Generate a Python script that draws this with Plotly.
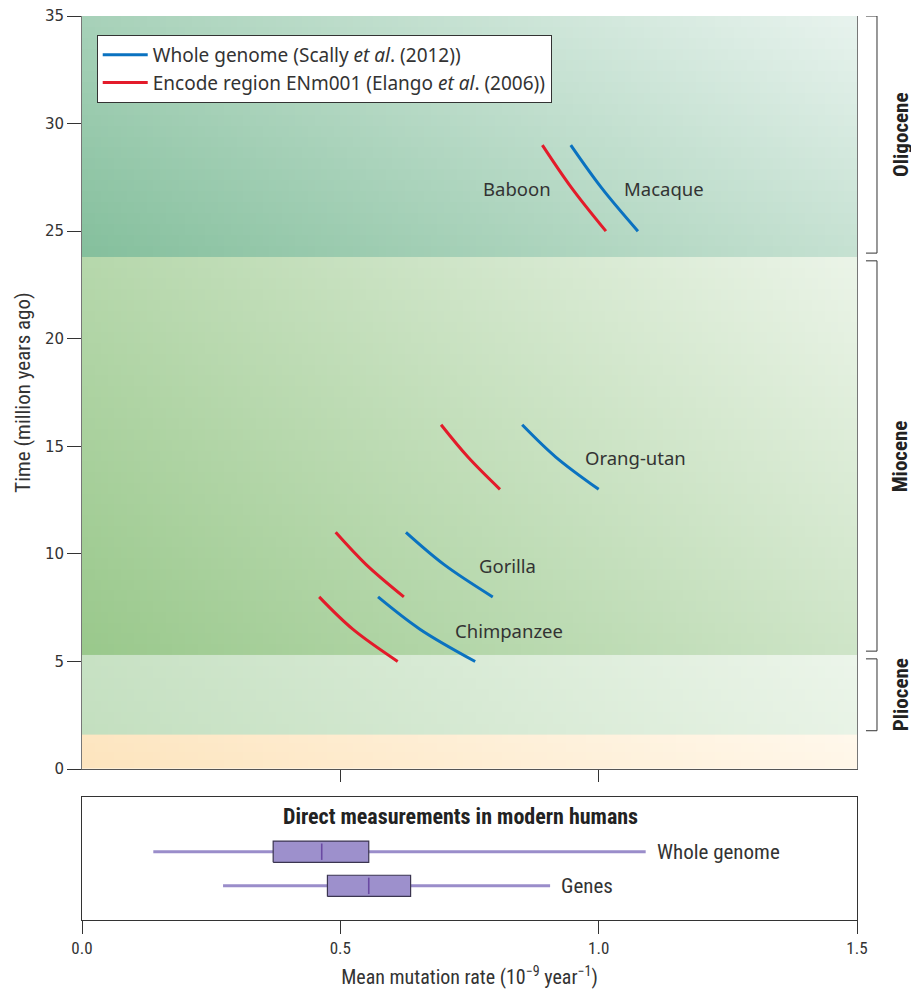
import numpy as np
import plotly.graph_objects as go

# ---------------- data ----------------
# speciation-time curves (time in Myr, rate in 1e-9 / year)
time_macaque = [29.0, 27.0, 25.0]
wg_macaque = [0.946, 1.006, 1.076]
enc_baboon = [0.891, 0.948, 1.014]

time_orang = [16.0, 14.5, 13.0]
wg_orang = [0.852, 0.917, 1.000]
enc_orang = [0.695, 0.747, 0.809]

time_gorilla = [11.0, 9.5, 8.0]
wg_gorilla = [0.627, 0.701, 0.795]
enc_gorilla = [0.491, 0.550, 0.623]

time_chimp = [8.0, 6.5, 5.0]
wg_chimp = [0.573, 0.654, 0.761]
enc_chimp = [0.459, 0.524, 0.611]

label_text = ["Baboon", "Macaque", "Orang-utan", "Gorilla", "Chimpanzee"]
label_x = [0.912, 1.045, 0.970, 0.764, 0.718]
label_y = [27.0, 27.0, 14.46, 9.44, 6.46]
label_anchor = ["right", "left", "left", "left", "left"]

# geological epochs
era_names = ["Oligocene", "Miocene", "Pliocene", "Pleistocene"]
era_top = [35.0, 23.8, 5.3, 1.6]
era_bottom = [23.8, 5.3, 1.6, 0.0]
era_dark = ["#84bf9c", "#99c88b", "#c3dfbf", "#fde4bd"]
era_light = ["#e8f3ee", "#ebf4e8", "#ecf5ea", "#fff8ec"]
era_labelled = [True, True, True, False]

# direct measurements (box plots)
box_names = ["Whole genome", "Genes"]
box_pos = [2, 1]
box_lo = [0.138, 0.273]
box_q1 = [0.370, 0.475]
box_med = [0.464, 0.555]
box_q3 = [0.555, 0.636]
box_hi = [1.091, 0.906]

x_ticks = [0.0, 0.5, 1.0, 1.5]
x_ticklabels = ["0.0", "0.5", "1.0", "1.5"]
y_ticks = [0, 5, 10, 15, 20, 25, 30, 35]

BLUE = "#0a72c0"
RED = "#e31b2a"
TXT = "#333333"
FONT = "Noto Sans, Open Sans, sans-serif"
NARROW = "Liberation Sans Narrow, Roboto Condensed, Roboto, sans-serif"

fig = go.Figure()

# ---------------- gradient backgrounds ----------------
nx = 120
for name, t, b, dark, light in zip(era_names, era_top, era_bottom, era_dark, era_light):
    ny = max(4, int((t - b) * 2))
    xe = np.linspace(0, 1.5, nx + 1)
    ye = np.linspace(b, t, ny + 1)
    xc = (xe[:-1] + xe[1:]) / 2 / 1.5
    yc = ((ye[:-1] + ye[1:]) / 2 - b) / (t - b)
    if name in ("Pliocene", "Pleistocene"):
        z = 0.9 * xc[None, :] + 0.1 * yc[:, None]
    else:
        z = 0.65 * xc[None, :] + 0.35 * yc[:, None]
    fig.add_trace(go.Heatmap(
        x=xe, y=ye, z=z, zmin=0, zmax=1,
        colorscale=[[0, dark], [1, light]], showscale=False,
        hoverinfo="skip", xaxis="x", yaxis="y"))

# ---------------- curves ----------------
curves = [
    (wg_macaque, time_macaque, BLUE, "wg"),
    (enc_baboon, time_macaque, RED, "enc"),
    (wg_orang, time_orang, BLUE, "wg"),
    (enc_orang, time_orang, RED, "enc"),
    (wg_gorilla, time_gorilla, BLUE, "wg"),
    (enc_gorilla, time_gorilla, RED, "enc"),
    (wg_chimp, time_chimp, BLUE, "wg"),
    (enc_chimp, time_chimp, RED, "enc"),
]
names = {"wg": "Whole genome (Scally <i>et al</i>. (2012))",
         "enc": "Encode region ENm001 (Elango <i>et al</i>. (2006))"}
shown = set()
for xs, ys, col, grp in curves:
    fig.add_trace(go.Scatter(
        x=xs, y=ys, mode="lines", line=dict(color=col, width=3, shape="spline"),
        name=names[grp], legendgroup=grp, showlegend=grp not in shown,
        legendrank=1 if grp == "wg" else 2,
        xaxis="x", yaxis="y", hoverinfo="skip"))
    shown.add(grp)

# ---------------- box plots ----------------
WHISK = "#9a8dca"
half = 0.31
for n, p, lo, q1, md, q3, hi in zip(box_names, box_pos, box_lo, box_q1, box_med, box_q3, box_hi):
    fig.add_trace(go.Scatter(x=[lo, hi], y=[p, p], mode="lines",
                             line=dict(color=WHISK, width=3), showlegend=False,
                             xaxis="x2", yaxis="y2", hoverinfo="skip"))
    fig.add_trace(go.Scatter(x=[q1, q3, q3, q1, q1],
                             y=[p - half, p - half, p + half, p + half, p - half],
                             mode="lines", fill="toself", fillcolor="#9d90cc",
                             line=dict(color="#3b3550", width=1.2), showlegend=False,
                             xaxis="x2", yaxis="y2", hoverinfo="skip"))
    fig.add_trace(go.Scatter(x=[md, md], y=[p - 0.24, p + 0.24], mode="lines",
                             line=dict(color="#6a4aa2", width=1.6), showlegend=False,
                             xaxis="x2", yaxis="y2", hoverinfo="skip"))
    fig.add_annotation(x=hi, y=p, xref="x2", yref="y2", text=n, showarrow=False,
                       xanchor="left", xshift=9, font=dict(family=NARROW, size=21, color=TXT))

fig.add_annotation(x=0.733, y=3.04, xref="x2", yref="y2",
                   text="<b>Direct measurements in modern humans</b>", showarrow=False,
                   font=dict(family=NARROW, size=22, color="#222"))

# ---------------- species labels ----------------
for t, x, y, a in zip(label_text, label_x, label_y, label_anchor):
    fig.add_annotation(x=x, y=y, xref="x", yref="y", text=t, showarrow=False,
                       xanchor=a, font=dict(family=FONT, size=18.5, color=TXT))

# ---------------- epoch brackets ----------------
gap = 0.18
bx, bt = 1.0258, 1.0116
for name, t, b, lab in zip(era_names, era_top, era_bottom, era_labelled):
    if not lab:
        continue
    top = t if t >= 35 else t - gap
    bot = b + gap
    fig.add_shape(type="path", xref="paper", yref="y",
                  path=f"M {bt} {top} L {bx} {top} L {bx} {bot} L {bt} {bot}",
                  line=dict(color=TXT, width=1))
    fig.add_annotation(x=1.074, y=(top + bot) / 2, xref="paper", yref="y",
                       text=f"<b>{name}</b>", textangle=-90, showarrow=False,
                       font=dict(family=NARROW, size=21, color="#222"))

# ---------------- layout ----------------
# the page adds an 8px body margin, so the figure is drawn 8px smaller
fig.update_layout(
    width=911, height=985,
    margin=dict(l=74, r=62, t=8, b=73, autoexpand=False),
    paper_bgcolor="white", plot_bgcolor="white",
    showlegend=True,
    legend=dict(x=0.019, y=0.979, xanchor="left", yanchor="top",
                bgcolor="white", bordercolor=TXT, borderwidth=1, itemwidth=45,
                font=dict(family=FONT, size=19, color=TXT), tracegroupgap=0),
    xaxis=dict(domain=[0, 1], range=[0, 1.5], anchor="y", tickvals=[0.5, 1.0],
               showticklabels=False, ticks="outside", ticklen=12, tickcolor=TXT,
               showline=True, linecolor="#555", linewidth=1.2, showgrid=False,
               zeroline=False),
    yaxis=dict(domain=[0.167, 1], range=[0, 35], tickvals=y_ticks, ticks="outside",
               ticklen=14, tickcolor=TXT, showline=True, mirror=True, linecolor="#777",
               linewidth=1, showgrid=False, zeroline=False, ticklabeloverflow="allow",
               tickfont=dict(family="DejaVu Sans", size=15, color=TXT),
               title=dict(text="Time (million years ago)", standoff=8,
                          font=dict(family=NARROW, size=21, color=TXT))),
    xaxis2=dict(domain=[0, 1], range=[0, 1.5], anchor="y2", tickvals=x_ticks,
                ticktext=x_ticklabels, ticks="outside", ticklen=13, tickcolor=TXT,
                showline=True, mirror=True, linecolor=TXT, linewidth=1,
                showgrid=False, zeroline=False, ticklabeloverflow="allow",
                tickfont=dict(family=NARROW, size=17, color=TXT),
                title=dict(text="Mean mutation rate (10<sup>\u22129</sup> year<sup>\u22121</sup>)",
                           standoff=12, font=dict(family=NARROW, size=20, color=TXT))),
    yaxis2=dict(domain=[0, 0.136], range=[0, 3.6], anchor="x2", showticklabels=False,
                ticks="", showline=True, mirror=True, linecolor=TXT, linewidth=1,
                showgrid=False, zeroline=False),
)

fig.write_html("out.html")
